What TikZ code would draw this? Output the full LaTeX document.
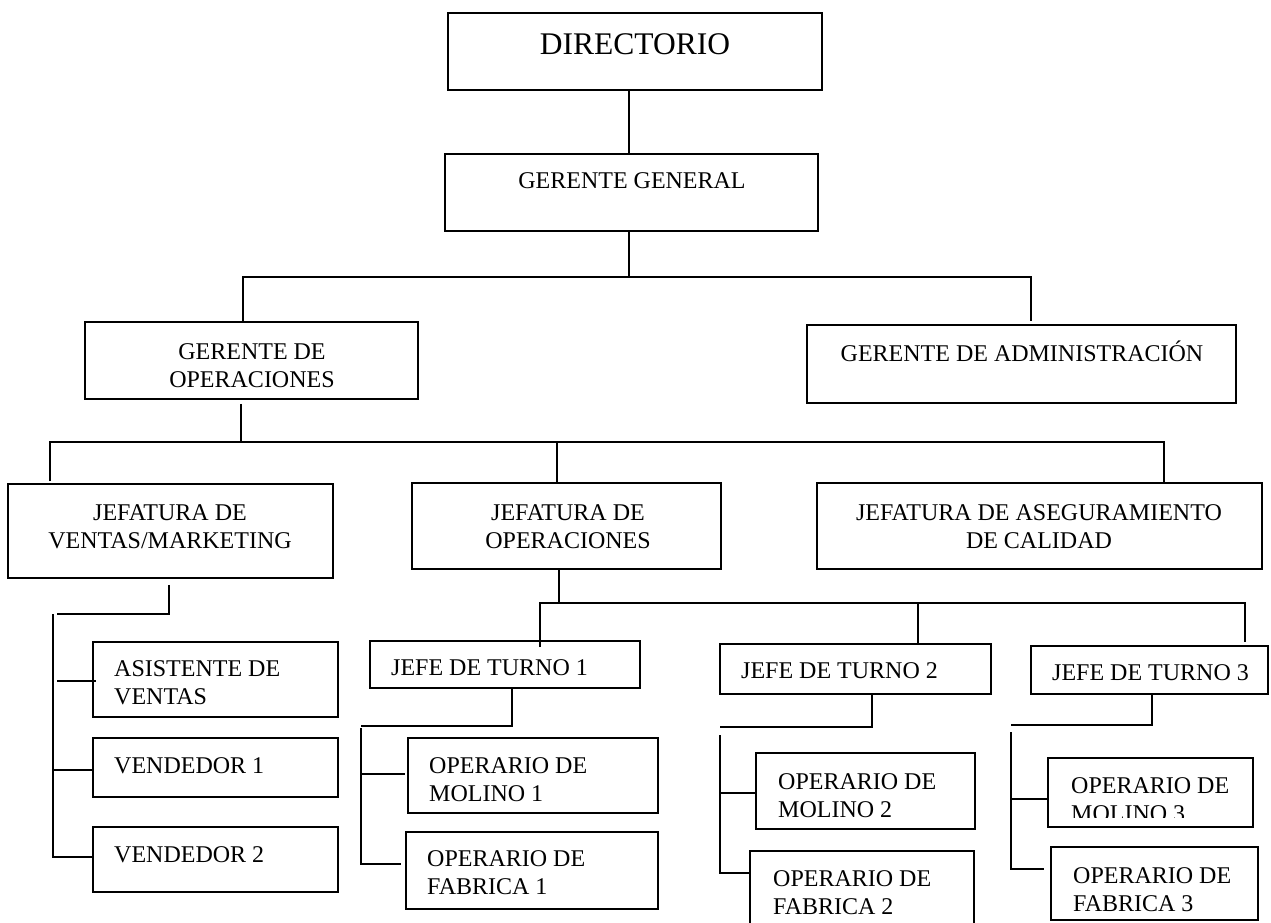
\documentclass[tikz,border=0pt]{standalone}
\usepackage{fontspec}
\setmainfont{Liberation Serif}
\usetikzlibrary{calc,fit}
% two-line labels whose reference point is the first baseline
\newcommand\twoc[2]{\begin{tabular}[t]{@{}c@{}}#1\\#2\end{tabular}}
\newcommand\twol[2]{\begin{tabular}[t]{@{}l@{}}#1\\#2\end{tabular}}
\begin{document}
\begin{tikzpicture}[x=1pt,y=-1pt,
  orgbox/.style={draw, line width=1.8pt, rectangle, inner sep=0pt},
  conn/.style={line width=1.8pt, line join=miter},
  lbl/.style={inner sep=0pt, font=\fontsize{24}{28}\selectfont},
  lblc/.style={lbl, anchor=base},
  lbll/.style={lbl, anchor=base west}]
\clip (0,0) rectangle (1271,923);
\fill[white] (0,0) rectangle (1271,923);

% ---- boxes ----
\node[orgbox, fit={(448,13) (822,90)}] (dir) {};
\node[orgbox, fit={(445,154) (818,231)}] (gg) {};
\node[orgbox, fit={(85,322) (418,399)}] (go) {};
\node[orgbox, fit={(807,325) (1236,403)}] (ga) {};
\node[orgbox, fit={(8,484) (333,578)}] (jvm) {};
\node[orgbox, fit={(412,483) (721,569)}] (jo) {};
\node[orgbox, fit={(817,483) (1262,569)}] (jac) {};
\node[orgbox, fit={(93,642) (338,717)}] (av) {};
\node[orgbox, fit={(93,738) (338,797)}] (v1) {};
\node[orgbox, fit={(93,827) (338,892)}] (v2) {};
\node[orgbox, fit={(370,641) (640,688)}] (jt1) {};
\node[orgbox, fit={(720,644) (991,694)}] (jt2) {};
\node[orgbox, fit={(1031,646) (1268,694)}] (jt3) {};
\node[orgbox, fit={(408,738) (658,813)}] (om1) {};
\node[orgbox, fit={(406,832) (658,909)}] (of1) {};
\node[orgbox, fit={(756,753) (975,829)}] (om2) {};
\node[orgbox, fit={(750,851) (974,940)}] (of2) {};
\node[orgbox, fit={(1048,758) (1253,827)}] (om3) {};
\node[orgbox, fit={(1051,847) (1258,920)}] (of3) {};

% ---- labels ----
\node[lblc, font=\fontsize{31.5}{36}\selectfont] (dir-t) at (635,55) {DIRECTORIO};
\node[lblc] (gg-t) at (632,188) {GERENTE GENERAL};
\node[lblc] (go-t) at (252,359) {\twoc{GERENTE DE}{OPERACIONES}};
\node[lblc] (ga-t) at (1022,361) {GERENTE DE ADMINISTRACIÓN};
\node[lblc] (jvm-t) at (170,520) {\twoc{JEFATURA DE}{VENTAS/MARKETING}};
\node[lblc] (jo-t) at (568,520) {\twoc{JEFATURA DE}{OPERACIONES}};
\node[lblc] (jac-t) at (1039,520) {\twoc{JEFATURA DE ASEGURAMIENTO}{DE CALIDAD}};
\node[lbll] (av-t) at (114,676) {\twol{ASISTENTE DE}{VENTAS}};
\node[lbll] (v1-t) at (114,773) {VENDEDOR 1};
\node[lbll] (v2-t) at (114,862) {VENDEDOR 2};
\node[lbll] (jt1-t) at (391,675) {JEFE DE TURNO 1};
\node[lbll] (jt2-t) at (741,678) {JEFE DE TURNO 2};
\node[lbll] (jt3-t) at (1052,680) {JEFE DE TURNO 3};
\node[lbll] (om1-t) at (429,773) {\twol{OPERARIO DE}{MOLINO 1}};
\node[lbll] (of1-t) at (427,866) {\twol{OPERARIO DE}{FABRICA 1}};
\node[lbll] (om2-t) at (778,789) {\twol{OPERARIO DE}{MOLINO 2}};
\node[lbll] (of2-t) at (773,886) {\twol{OPERARIO DE}{FABRICA 2}};
\begin{scope}
  % the second line is cut off by the text area of its box
  \clip (1050,760) rectangle (1250,817);
  \node[lbll] (om3-t) at (1071,793) {\twol{OPERARIO DE}{MOLINO 3}};
\end{scope}
\node[lbll] (of3-t) at (1073,883) {\twol{OPERARIO DE}{FABRICA 3}};

% ---- connectors ----
\coordinate (t0) at (629,0);
\draw[conn] (dir.south -| t0) -- (gg.north -| t0);

\coordinate (b1) at (629,277);
\coordinate (b1l) at (243,277);
\coordinate (b1r) at (1031,277);
\draw[conn] (gg.south -| b1) -- (b1);
\draw[conn] (go.north -| b1l) -- (b1l) -- (b1r) -- ($(ga.north -| b1r)+(0,-3)$);

\coordinate (b2) at (241,442);
\coordinate (b2l) at (50,442);
\coordinate (b2m) at (557,442);
\coordinate (b2r) at (1164,442);
\draw[conn] ($(go.south -| b2)+(0,4)$) -- (b2);
\draw[conn] ($(jvm.north -| b2l)+(0,-2)$) -- (b2l) -- (b2r) -- (jac.north -| b2r);
\draw[conn] (b2m) -- (jo.north -| b2m);

\coordinate (b3) at (559,603);
\coordinate (b3l) at (540,603);
\coordinate (b3m) at (918,603);
\coordinate (b3r) at (1245,603);
\draw[conn] (jo.south -| b3) -- (b3);
\draw[conn] ($(jt1.north -| b3l)+(0,7)$) -- (b3l) -- (b3r) -- ($(jt3.north -| b3r)+(0,-3)$);
\draw[conn] (b3m) -- (jt2.north -| b3m);

% ventas / marketing
\coordinate (v0) at (169,614);
\coordinate (v0l) at (57,614);
\coordinate (vt) at (53,614);
\coordinate (vb) at (53,857);
\coordinate (va) at (57,681);
\coordinate (vm) at (53,770);
\draw[conn] ($(jvm.south -| v0)+(0,6)$) -- (v0) -- (v0l);
\draw[conn] (vt) -- (vb) -- (v2.west |- vb);
\draw[conn] (vm) -- (v1.west |- vm);
\draw[conn] (va) -- ($(av.west |- va)+(4,0)$);

% jefe de turno 1
\coordinate (p1) at (512,726);
\coordinate (p1l) at (361,726);
\coordinate (q1t) at (361,728);
\coordinate (q1b) at (361,864);
\coordinate (q1m) at (361,774);
\draw[conn] (jt1.south -| p1) -- (p1) -- (p1l);
\draw[conn] (q1t) -- (q1b) -- ($(of1.west |- q1b)+(-4,0)$);
\draw[conn] (q1m) -- ($(om1.west |- q1m)+(-2,0)$);

% jefe de turno 2
\coordinate (p2) at (872,727);
\coordinate (p2l) at (720,727);
\coordinate (q2t) at (720,735);
\coordinate (q2b) at (720,873);
\coordinate (q2m) at (720,793);
\draw[conn] (jt2.south -| p2) -- (p2) -- (p2l);
\draw[conn] (q2t) -- (q2b) -- (of2.west |- q2b);
\draw[conn] (q2m) -- (om2.west |- q2m);

% jefe de turno 3
\coordinate (p3) at (1152,725);
\coordinate (p3l) at (1011,725);
\coordinate (q3t) at (1011,732);
\coordinate (q3b) at (1011,869);
\coordinate (q3m) at (1011,799);
\draw[conn] (jt3.south -| p3) -- (p3) -- (p3l);
\draw[conn] (q3t) -- (q3b) -- ($(of3.west |- q3b)+(-6,0)$);
\draw[conn] (q3m) -- (om3.west |- q3m);
\end{tikzpicture}
\end{document}
